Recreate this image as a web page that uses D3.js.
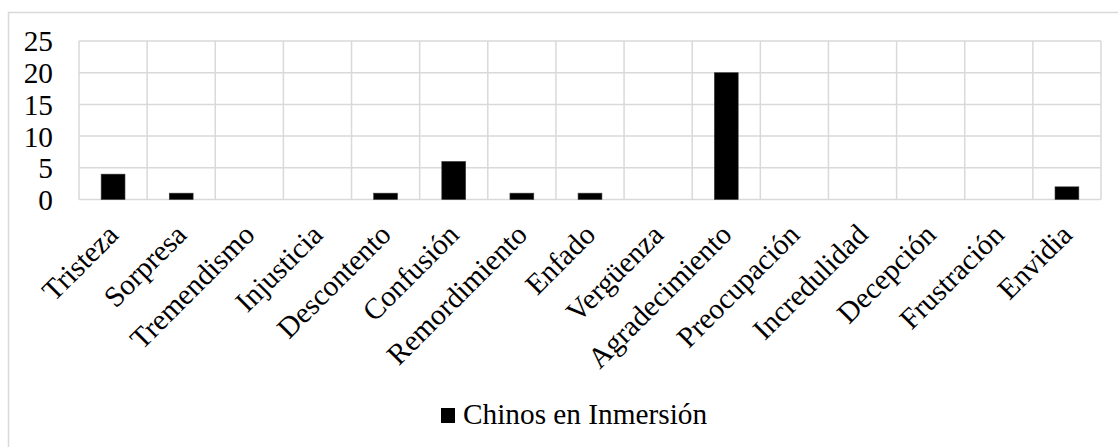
<!DOCTYPE html>
<html>
<head>
<meta charset="utf-8">
<script src="https://cdn.jsdelivr.net/npm/d3@7/dist/d3.min.js"></script>
<style>
  html, body { margin: 0; padding: 0; background: #fff; }
  svg { display: block; }
</style>
</head>
<body>
<svg id="chart" width="1118" height="447"></svg>
<script>
// Emotion categories and counts for the single series
const categories = ["Tristeza", "Sorpresa", "Tremendismo", "Injusticia", "Descontento",
  "Confusión", "Remordimiento", "Enfado", "Vergüenza", "Agradecimiento",
  "Preocupación", "Incredulidad", "Decepción", "Frustración", "Envidia"];
const chinosValues = [4, 1, 0, 0, 1, 6, 1, 1, 0, 20, 0, 0, 0, 0, 2];
const seriesName = "Chinos en Inmersión";
const yTicks = [0, 5, 10, 15, 20, 25];

const FONT = '"Liberation Serif", "Times New Roman", serif';
const FS = "29.3px";
const svg = d3.select("#chart");
const W = 1118, H = 447;
const plot = { left: 79, right: 1101, top: 41, bottom: 199.5 };
const gridColor = "#d9d9d9";

// Outer chart frame
svg.append("rect")
  .attr("x", 8.5).attr("y", 12.5)
  .attr("width", W + 10).attr("height", H + 10)
  .attr("fill", "#fff").attr("stroke", gridColor).attr("stroke-width", 1.5);

const x = d3.scaleBand().domain(categories).range([plot.left, plot.right]).padding(0);
const y = d3.scaleLinear().domain([0, 25]).range([plot.bottom, plot.top]);

// Horizontal gridlines
svg.append("g")
  .selectAll("line")
  .data(yTicks)
  .join("line")
  .attr("x1", plot.left).attr("x2", plot.right)
  .attr("y1", d => y(d)).attr("y2", d => y(d))
  .attr("stroke", gridColor).attr("stroke-width", 1.5);

// Vertical gridlines at category boundaries
const bounds = categories.map(c => x(c)).concat([x(categories[categories.length - 1]) + x.bandwidth()]);
svg.append("g")
  .selectAll("line")
  .data(bounds)
  .join("line")
  .attr("x1", d => d).attr("x2", d => d)
  .attr("y1", plot.top).attr("y2", plot.bottom)
  .attr("stroke", gridColor).attr("stroke-width", 1.5);

// Y axis labels
const yAxis = d3.axisLeft(y).tickValues(yTicks).tickSize(0).tickPadding(26);
const gy = svg.append("g").attr("transform", `translate(${plot.left},0)`).call(yAxis)
  .attr("font-family", FONT).attr("font-size", FS);
gy.select(".domain").remove();
gy.selectAll("text")
  .style("font-family", FONT)
  .style("font-size", FS).attr("fill", "#000").attr("dy", "0.34em");

// Bars
const barW = x.bandwidth() * 0.35;
svg.append("g")
  .selectAll("rect")
  .data(categories.map((c, i) => ({ c, v: chinosValues[i] })).filter(d => d.v > 0))
  .join("rect")
  .attr("x", d => x(d.c) + (x.bandwidth() - barW) / 2)
  .attr("y", d => y(d.v))
  .attr("width", barW)
  .attr("height", d => y(0) - y(d.v))
  .attr("fill", "#000")
  .attr("stroke", "#3a3a3a").attr("stroke-width", 0.6);

// Rotated category labels
const xAxis = d3.axisBottom(x).tickSize(0).tickPadding(0);
const gx = svg.append("g").attr("transform", `translate(0,${plot.bottom})`).call(xAxis)
  .attr("font-family", FONT).attr("font-size", FS);
gx.select(".domain").remove();
gx.selectAll("text")
  .style("font-family", FONT)
  .style("font-size", FS).attr("fill", "#000")
  .attr("text-anchor", "end")
  .attr("dy", null).attr("y", null)
  .attr("transform", "translate(7,37) rotate(-45)");

// Legend
const legend = svg.append("g").attr("transform", "translate(441,408)");
legend.append("rect").attr("width", 14).attr("height", 15).attr("fill", "#000");
legend.append("text")
  .attr("x", 22).attr("y", 16)
  .style("font-family", FONT)
  .style("font-size", FS)
  .attr("fill", "#000")
  .text(seriesName);
</script>
</body>
</html>
